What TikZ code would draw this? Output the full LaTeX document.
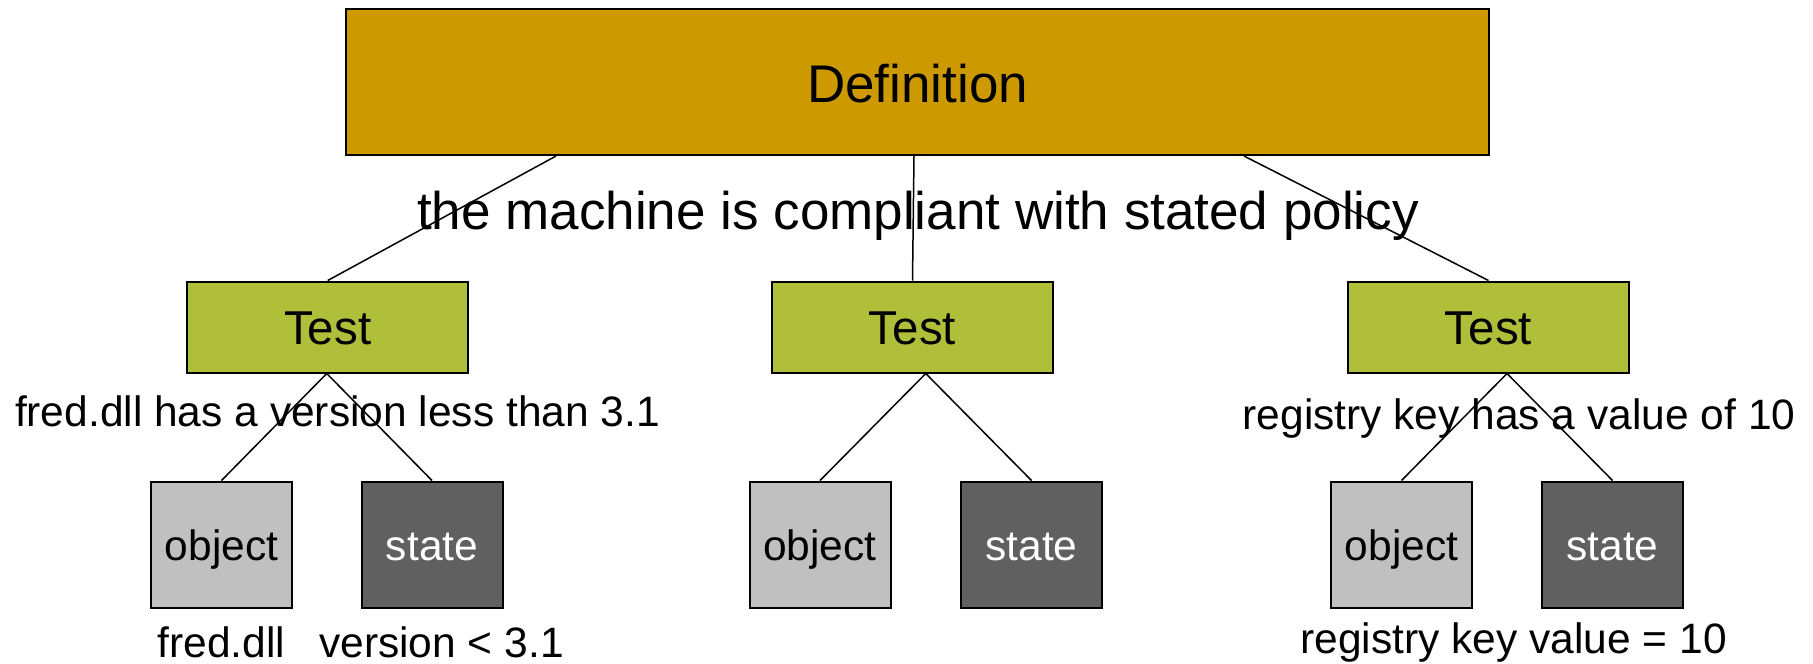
\documentclass[tikz,border=0pt]{standalone}
\usepackage{fontspec}
\setmainfont{Liberation Sans}
\usetikzlibrary{calc}
\definecolor{defcol}{RGB}{204,153,0}
\definecolor{testcol}{RGB}{175,191,58}
\definecolor{objcol}{RGB}{192,192,192}
\definecolor{statecol}{RGB}{96,96,96}
\begin{document}
\begin{tikzpicture}[x=0.4pt,y=-0.4pt,
  box/.style={draw=black,line width=0.8pt,inner sep=0pt,text depth=0pt},
  defbox/.style={box,fill=defcol,minimum width=457.2pt,minimum height=58.4pt,text height=16pt,font=\fontsize{21.2}{24}\selectfont},
  testbox/.style={box,fill=testcol,minimum width=112.4pt,minimum height=36.4pt,text height=13.6pt,font=\fontsize{19}{22}\selectfont},
  objbox/.style={box,fill=objcol,minimum width=56.4pt,minimum height=50.4pt,text height=12.8pt,font=\fontsize{17}{20}\selectfont},
  statebox/.style={box,fill=statecol,text=white,minimum width=56.4pt,minimum height=50.4pt,text height=12.8pt,font=\fontsize{17}{20}\selectfont},
  biglabel/.style={anchor=base,inner sep=0pt,font=\fontsize{21.2}{24}\selectfont},
  smalllabel/.style={anchor=base,inner sep=0pt,font=\fontsize{17}{20}\selectfont},
  conn/.style={draw=black,line width=0.6pt}]
\useasboundingbox (0,0) rectangle (1813,663);
% nodes
\node[defbox] (def) at (917.5,82) {Definition};
\node[testbox] (t1) at (327.7,327) {Test};
\node[testbox] (t2) at (912.5,327) {Test};
\node[testbox] (t3) at (1488.5,327) {Test};
\node[objbox] (o1) at (221.5,544.5) {object};
\node[statebox] (s1) at (432,544.5) {state};
\node[objbox] (o2) at (820,544.5) {object};
\node[statebox] (s2) at (1031.5,544.5) {state};
\node[objbox] (o3) at (1401.5,544.5) {object};
\node[statebox] (s3) at (1612.5,544.5) {state};
% anchor helpers on the Definition bottom
\coordinate (dx1) at (556,0);
\coordinate (dx2) at (914,0);
\coordinate (dx3) at (1244,0);
% connectors
\draw[conn] (def.south -| dx1) -- (t1.north);
\draw[conn] (def.south -| dx2) -- (t2.north);
\draw[conn] (def.south -| dx3) -- (t3.north);
\coordinate (m1) at ($(o1.north)!0.5!(s1.north)$);
\coordinate (m2) at ($(o2.north)!0.5!(s2.north)$);
\coordinate (m3) at ($(o3.north)!0.5!(s3.north)$);
\draw[conn] (t1.south -| m1) -- (o1.north);
\draw[conn] (t1.south -| m1) -- (s1.north);
\draw[conn] (t2.south -| m2) -- (o2.north);
\draw[conn] (t2.south -| m2) -- (s2.north);
\draw[conn] (t3.south -| m3) -- (o3.north);
\draw[conn] (t3.south -| m3) -- (s3.north);
% labels
\node[biglabel] (lpolicy) at (918,229) {the machine is compliant with stated policy};
\node[smalllabel] (lfred) at (337.5,426) {fred.dll has a version less than 3.1};
\node[smalllabel] (lreg) at (1519,429) {registry key has a value of 10};
\node[smalllabel] (lfreddll) at (221.5,657) {fred.dll};
\node[smalllabel] (lver) at (441.5,657) {version < 3.1};
\node[smalllabel] (lregval) at (1513.5,653) {registry key value = 10};
\end{tikzpicture}
\end{document}
